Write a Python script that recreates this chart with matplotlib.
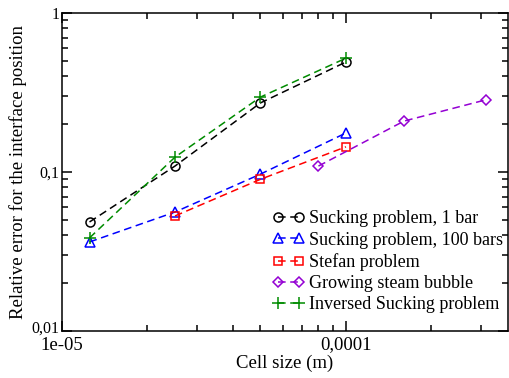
import matplotlib
matplotlib.use("Agg")
import matplotlib.pyplot as plt
import matplotlib.transforms as mtransforms
from matplotlib.ticker import FixedLocator, LogLocator, NullFormatter

plt.rcParams['font.family'] = ['Liberation Serif', 'DejaVu Serif']

# Cell sizes (m) and relative interface-position errors
cell_sucking = [1.25e-5, 2.5e-5, 5e-5, 1e-4]
err_sucking_1bar = [0.0485, 0.109, 0.272, 0.492]
err_sucking_100bar = [0.0363, 0.056, 0.097, 0.176]
err_inversed = [0.0385, 0.124, 0.296, 0.52]

cell_stefan = [2.5e-5, 5e-5, 1e-4]
err_stefan = [0.0529, 0.090, 0.144]

cell_bubble = [8e-5, 1.6e-4, 3.1e-4]
err_bubble = [0.109, 0.209, 0.284]

labels = ["Sucking problem, 1 bar", "Sucking problem, 100 bars", "Stefan problem",
          "Growing steam bubble", "Inversed Sucking problem"]

x_ticks = [1e-5, 1e-4]
x_ticklabels = ["1e-05", "0,0001"]
y_ticks = [0.01, 0.1, 1]
y_ticklabels = ["0,01", "0,1", "1"]

fig = plt.figure(figsize=(5.1, 3.78), dpi=100)
ax = fig.add_axes([62 / 510, 1 - 331 / 378, (508 - 62) / 510, (331 - 13) / 378])

line_kw = dict(lw=1.1, dashes=(5, 3), markerfacecolor='none', markeredgewidth=1.1)
ax.plot(cell_sucking, err_sucking_1bar, color='black', marker='o', ms=6.5, label=labels[0], **line_kw)
ax.plot(cell_sucking, err_sucking_100bar, color='#0000ff', marker='^', ms=7, label=labels[1], **line_kw)
ax.plot(cell_stefan, err_stefan, color='#ff0000', marker='s', ms=6, label=labels[2], **line_kw)
ax.plot(cell_bubble, err_bubble, color='#9400d3', marker='D', ms=5.5, label=labels[3], **line_kw)
ax.plot(cell_sucking, err_inversed, color='#008b00', marker='+', ms=8, label=labels[4], **line_kw)

ax.set_xscale('log')
ax.set_yscale('log')
ax.set_xlim(1e-5, 3.72e-4)
ax.set_ylim(0.01, 1)

ax.xaxis.set_major_locator(FixedLocator(x_ticks))
ax.set_xticklabels(x_ticklabels, fontsize=13.5)
ax.yaxis.set_major_locator(FixedLocator(y_ticks))
ax.set_yticklabels(y_ticklabels, fontsize=11.5)
for axis in (ax.xaxis, ax.yaxis):
    axis.set_minor_locator(LogLocator(base=10, subs=range(2, 10)))
    axis.set_minor_formatter(NullFormatter())

ax.tick_params(which='both', direction='in', top=True, right=True, width=1.1)
ax.tick_params(which='major', length=7)
ax.tick_params(which='minor', length=4.5)
ax.tick_params(axis='x', which='major', pad=4)
ax.tick_params(axis='y', which='major', pad=2)
for sp in ax.spines.values():
    sp.set_linewidth(1.1)

# lift the bottom y label a little so it sits above the first x label
lift = mtransforms.ScaledTranslation(0, 3 / 72, fig.dpi_scale_trans)
fig.canvas.draw()
ylab0 = ax.get_yticklabels()[0]
ylab0.set_transform(ylab0.get_transform() + lift)

ax.set_xlabel("Cell size (m)", fontsize=13.5, labelpad=1)
ax.set_ylabel("Relative error for the interface position", fontsize=13.5, labelpad=3)

leg = ax.legend(loc='lower right', bbox_to_anchor=(1.014, 0.021), frameon=False, fontsize=13,
                numpoints=2, handlelength=1.75, handletextpad=0.3, labelspacing=0.24,
                borderaxespad=0.2)

fig.savefig("out.png", dpi=100)
